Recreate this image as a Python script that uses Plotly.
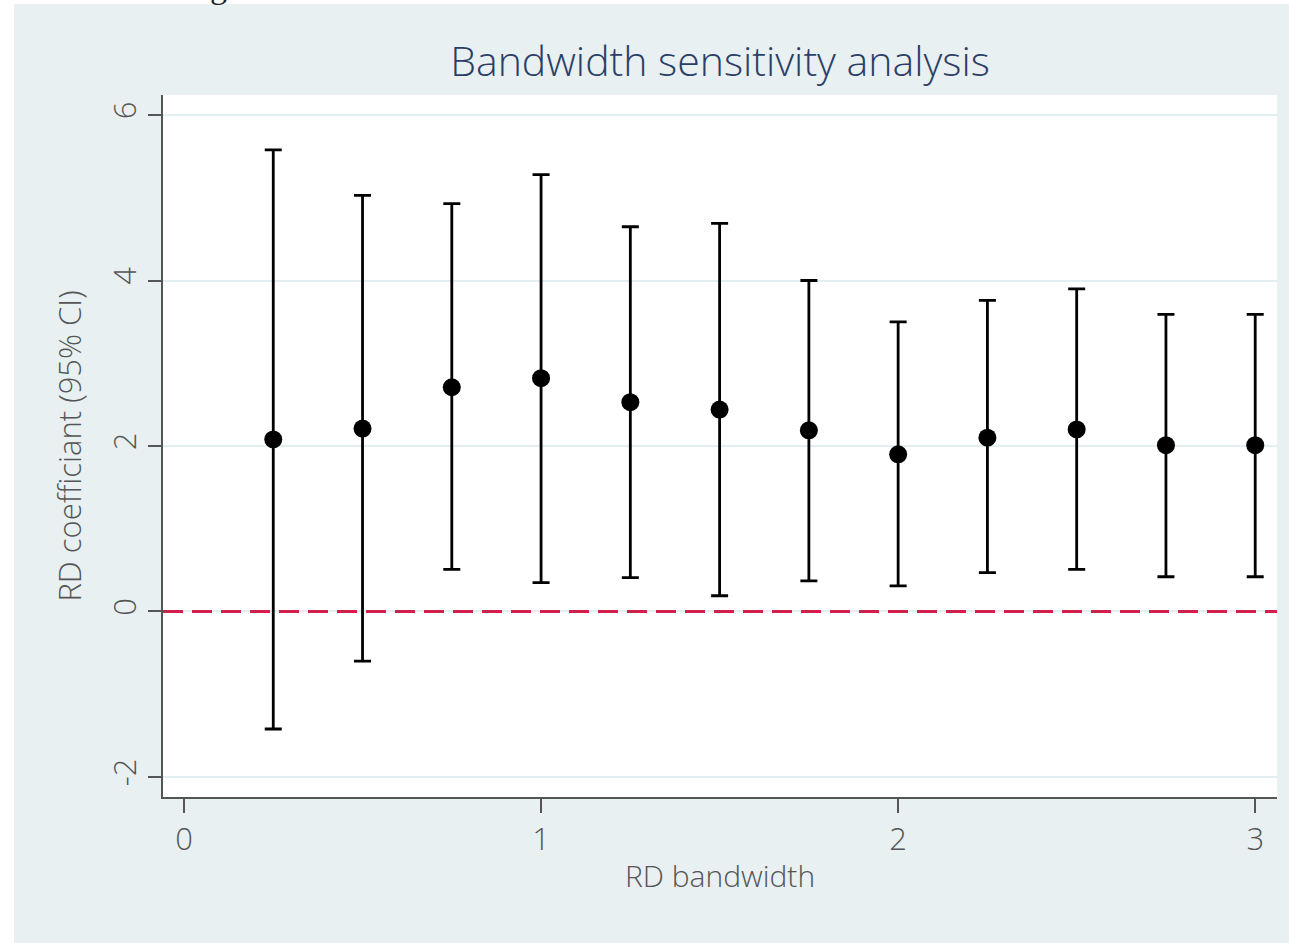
import plotly.graph_objects as go

# ---- data ----
bandwidth = [0.25, 0.5, 0.75, 1.0, 1.25, 1.5, 1.75, 2.0, 2.25, 2.5, 2.75, 3.0]
coef      = [2.08, 2.21, 2.71, 2.82, 2.53, 2.44, 2.19, 1.90, 2.10, 2.20, 2.01, 2.01]
ci_upper  = [5.58, 5.03, 4.93, 5.28, 4.65, 4.69, 4.00, 3.50, 3.76, 3.90, 3.59, 3.59]
ci_lower  = [-1.42, -0.60, 0.51, 0.35, 0.41, 0.19, 0.37, 0.31, 0.47, 0.51, 0.42, 0.42]
x_ticks = [0, 1, 2, 3]
y_ticks = [-2, 0, 2, 4, 6]
ref_value = 0

err_plus = [u - c for u, c in zip(ci_upper, coef)]
err_minus = [c - l for c, l in zip(coef, ci_lower)]

BG = "#e8f0f2"
FONT = "Open Sans"
TXT = "#555555"

fig = go.Figure()
fig.add_trace(go.Scatter(
    x=bandwidth, y=coef, mode="markers",
    marker=dict(color="black", size=18),
    error_y=dict(type="data", symmetric=False, array=err_plus, arrayminus=err_minus,
                 color="black", thickness=2.8, width=8.5),
    showlegend=False, cliponaxis=False,
))

# reference line at zero
fig.add_shape(type="line", xref="paper", x0=0, x1=1, yref="y", y0=ref_value, y1=ref_value,
              line=dict(color="#d21f4b", width=3, dash="20px,9px"), layer="above")

# white page strips (figure cropped from a document)
fig.add_shape(type="rect", xref="paper", yref="paper", x0=-0.2, x1=-0.1338, y0=-0.3, y1=1.3,
              fillcolor="white", line=dict(width=0), layer="below")
fig.add_shape(type="rect", xref="paper", yref="paper", x0=-0.2, x1=1.1, y0=1.1296, y1=1.3,
              fillcolor="white", line=dict(width=0), layer="below")
# cut-off fragment of the document text above the figure
fig.add_annotation(text="g", xref="paper", yref="paper", x=0.0494, y=1.155,
                   xanchor="center", yanchor="middle", showarrow=False,
                   font=dict(family="Liberation Serif", size=34, color="#222222"))

fig.update_layout(
    width=1289, height=943,
    paper_bgcolor=BG, plot_bgcolor="white",
    margin=dict(l=163, r=12, t=95, b=146),
    font=dict(family=FONT, color=TXT, weight=300),
    title=dict(text="Bandwidth sensitivity analysis", x=0.5, xref="paper", xanchor="center",
               y=1 - 62 / 943, yanchor="middle",
               font=dict(family=FONT, size=41, color="#2b3f66", weight=300)),
)
fig.update_xaxes(
    range=[-0.0588, 3.061], tickvals=x_ticks, ticktext=[str(v) for v in x_ticks],
    showgrid=False, zeroline=False,
    showline=True, linecolor=TXT, linewidth=2,
    ticks="outside", ticklen=14, tickwidth=2, tickcolor=TXT,
    tickfont=dict(size=31, color=TXT, weight=300),
    title=dict(text="RD bandwidth", font=dict(size=30, color=TXT, weight=300), standoff=8),
)
fig.update_yaxes(
    range=[-2.242, 6.242], tickvals=y_ticks, ticktext=[str(v) for v in y_ticks],
    showgrid=True, gridcolor="#e3eef0", gridwidth=2, zeroline=False,
    showline=True, linecolor=TXT, linewidth=2,
    ticks="outside", ticklen=13, tickwidth=2, tickcolor=TXT, tickangle=-90,
    tickfont=dict(size=31, color=TXT, weight=300),
    title=dict(text="RD coefficiant (95% CI)", font=dict(size=31, color=TXT, weight=300), standoff=12),
)

fig.write_html("out.html", config={"displayModeBar": False},
               post_script="document.body.style.margin='0';document.documentElement.style.overflow='hidden';")
